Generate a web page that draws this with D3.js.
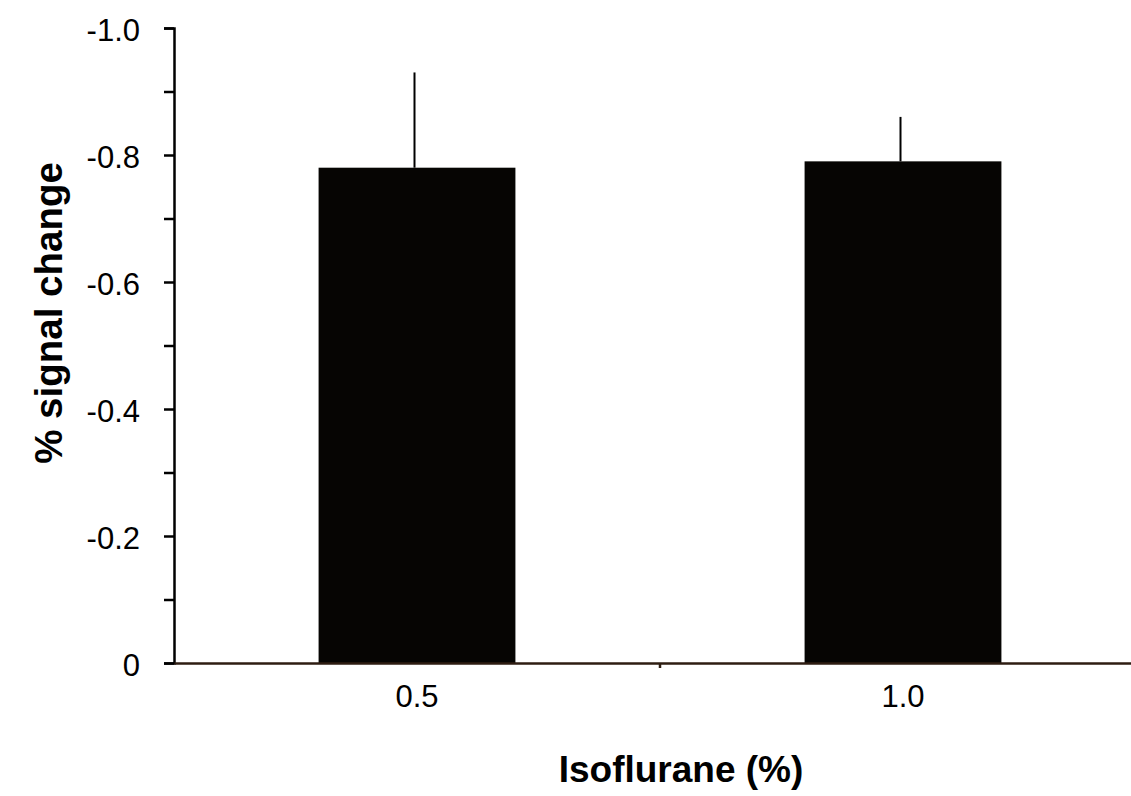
<!DOCTYPE html>
<html>
<head>
<meta charset="utf-8">
<script src="https://cdn.jsdelivr.net/npm/d3@7"></script>
<style>
  body { margin: 0; background: #fff; }
  text { font-family: Arial, "Liberation Sans", sans-serif; }
</style>
</head>
<body>
<svg></svg>
<script>
// Chart size
var width = 1131;
var height = 796;

// Data
const doses = ["0.5", "1.0"];
const signalChange = [-0.78, -0.79];
const errorTop = [-0.93, -0.86];
const yTicks = [0, -0.1, -0.2, -0.3, -0.4, -0.5, -0.6, -0.7, -0.8, -0.9, -1.0];

const data = doses.map((d, i) => ({ dose: d, value: signalChange[i], err: errorTop[i] }));

var svg = d3.select("svg").attr("width", width).attr("height", height);

// Scales (y is flipped: 0 at bottom, -1 at top)
let xScale = d3.scaleBand().domain(doses).range([174, 1146]).padding(0);
let yScale = d3.scaleLinear().domain([0, -1]).range([663, 28]);

let barW = xScale.bandwidth() * 0.405;

// Bars
svg.selectAll(".bar").data(data).enter()
    .append("rect")
    .attr("class", "bar")
    .attr("x", d => xScale(d.dose) + xScale.bandwidth() / 2 - barW / 2)
    .attr("y", d => yScale(d.value))
    .attr("width", barW)
    .attr("height", d => yScale(0) - yScale(d.value))
    .attr("fill", "#060503");

// Error bars (upper part only)
svg.selectAll(".err").data(data).enter()
    .append("line")
    .attr("class", "err")
    .attr("x1", d => xScale(d.dose) + xScale.bandwidth() / 2 - 2.5)
    .attr("x2", d => xScale(d.dose) + xScale.bandwidth() / 2 - 2.5)
    .attr("y1", d => yScale(d.value))
    .attr("y2", d => yScale(d.err))
    .attr("stroke", "#000")
    .attr("stroke-width", 2);

// Y axis
let y_Axis = d3.axisLeft(yScale)
    .tickValues(yTicks)
    .tickSize(10)
    .tickPadding(24)
    .tickFormat(d => {
        let k = Math.round(d * 10);
        if (k === 0) return "0";
        return k % 2 === 0 ? d.toFixed(1) : "";
    });

let gy = svg.append("g").attr("transform", "translate(174,0)").call(y_Axis);
gy.select(".domain").attr("stroke", "#000").attr("stroke-width", 2.5);
gy.selectAll(".tick line").attr("stroke", "#000").attr("stroke-width", 2.5);
gy.selectAll(".tick text")
    .style("font-size", "31px")
    .attr("fill", "#000")
    .attr("dy", "0.4em");

// X axis
let x_Axis = d3.axisBottom(xScale).tickSize(0).tickPadding(22);
let gx = svg.append("g").attr("transform", "translate(0,663)").call(x_Axis);
gx.select(".domain").attr("stroke", "#2e1d12").attr("stroke-width", 2.5);
gx.selectAll(".tick text")
    .style("font-size", "31px")
    .attr("fill", "#000");

// small tick between the categories
gx.append("line")
    .attr("x1", xScale("1.0")).attr("x2", xScale("1.0"))
    .attr("y1", 0).attr("y2", 5)
    .attr("stroke", "#2e1d12").attr("stroke-width", 2.5);

// Axis titles
svg.append("text")
    .style("font-size", "38.5px")
    .style("font-weight", "bold")
    .attr("text-anchor", "middle")
    .attr("transform", "translate(62,313) rotate(-90)")
    .text("% signal change");

svg.append("text")
    .style("font-size", "37px")
    .style("font-weight", "bold")
    .attr("text-anchor", "middle")
    .attr("transform", "translate(681,782)")
    .text("Isoflurane (%)");
</script>
</body>
</html>
